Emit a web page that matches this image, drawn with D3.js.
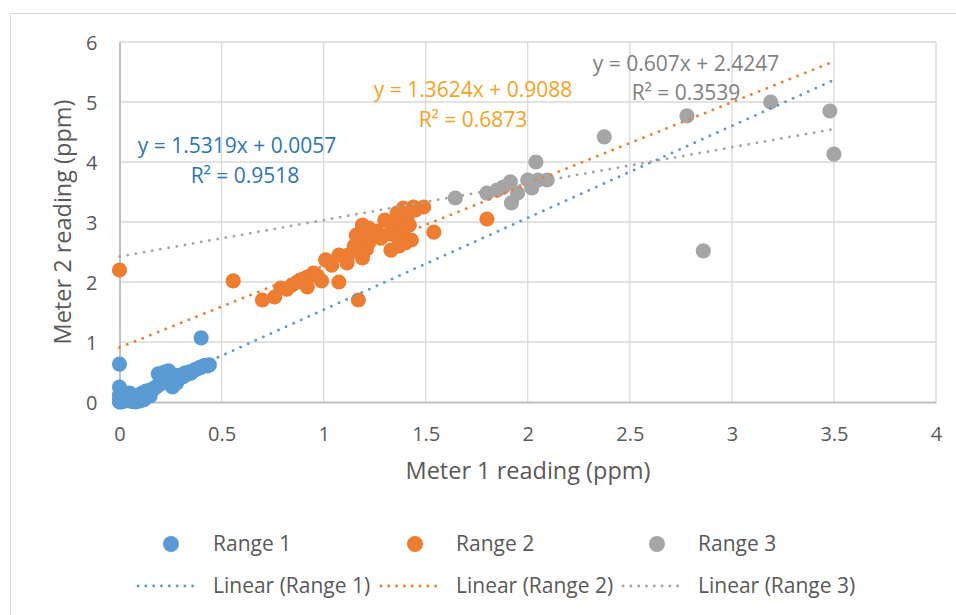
<!DOCTYPE html>
<html>
<head>
<meta charset="utf-8">
<script src="https://cdn.jsdelivr.net/npm/d3@7"></script>
<style>
  html, body { margin: 0; padding: 0; background: #fff; }
  svg { display: block; font-family: "Open Sans", Lato, sans-serif; }
</style>
</head>
<body>
<svg id="chart" width="956" height="615"></svg>
<script>
// Meter readings (ppm): [meter 1, meter 2]
const range1 = [
  [0,0],[0,0.02],[0.01,0],[0.02,0.03],[0,0.05],[0.03,0.02],[0.04,0.06],[0.05,0.03],
  [0.06,0.08],[0.07,0.05],[0.08,0.1],[0.09,0.07],[0.1,0.12],[0.1,0.02],[0.11,0.15],
  [0.12,0.1],[0.13,0.18],[0.14,0.16],[0.15,0.2],[0.16,0.19],[0.17,0.23],[0.18,0.25],
  [0.19,0.28],[0.2,0.3],[0.2,0.45],[0.21,0.33],[0.22,0.5],[0.23,0.36],[0.24,0.4],
  [0.24,0.52],[0.25,0.42],[0.26,0.25],[0.26,0.38],[0.27,0.45],[0.28,0.4],[0.29,0.43],
  [0.3,0.45],[0.31,0.42],[0.32,0.48],[0.33,0.46],[0.34,0.5],[0.35,0.48],[0.36,0.52],
  [0.37,0.54],[0.38,0.55],[0.39,0.57],[0.4,0.58],[0.41,0.6],[0.42,0.61],[0.43,0.6],
  [0.44,0.62],[0.4,1.07],[0,0.63],[0,0.25],[0,0.12],[0.01,0.08],[0.05,0.15],[0.08,0],
  [0.1,0.05],[0.15,0.1],[0.06,0.01],[0.12,0.04],[0.19,0.47],[0.21,0.4],[0.28,0.32]
];
const range2 = [
  [0,2.2],[0.557,2.02],[0.7,1.7],[0.76,1.75],[0.79,1.9],[0.845,1.95],[0.885,2.03],
  [0.92,2.08],[0.92,1.92],[0.95,2.15],[0.99,2.02],[1.01,2.37],[1.075,2.0],[1.075,2.45],
  [1.115,2.32],[1.17,1.7],[1.16,2.78],[1.19,2.95],[1.19,2.4],[1.18,2.58],[1.22,2.65],
  [1.28,2.73],[1.3,3.03],[1.33,2.53],[1.36,3.15],[1.375,2.87],[1.39,3.23],[1.4,2.65],
  [1.43,2.7],[1.44,3.25],[1.49,3.25],[1.54,2.83],[1.8,3.05],[0.82,1.88],[0.87,2.0],
  [0.9,2.05],[0.97,2.1],[1.04,2.28],[1.12,2.45],[1.15,2.6],[1.17,2.7],[1.2,2.82],
  [1.21,2.55],[1.24,2.75],[1.26,2.85],[1.32,2.8],[1.34,2.95],[1.36,2.75],[1.38,3.05],
  [1.41,3.1],[1.42,2.95],[1.45,3.2],[1.37,2.6],[1.39,2.85],[1.18,2.5],[1.22,2.9]
];
const range3 = [
  [1.645,3.4],[1.8,3.48],[1.85,3.53],[1.88,3.58],[1.915,3.67],[1.92,3.32],[1.95,3.48],
  [2.0,3.7],[2.02,3.57],[2.04,4.0],[2.05,3.7],[2.095,3.7],[2.375,4.42],[2.78,4.77],
  [2.86,2.52],[3.19,5.0],[3.48,4.85],[3.5,4.13]
];

// Linear trendlines: [slope, intercept, R²]
const fits = [
  [1.5319, 0.0057, 0.9518],
  [1.3624, 0.9088, 0.6873],
  [0.607, 2.4247, 0.3539]
];
const seriesNames = ["Range 1", "Range 2", "Range 3"];
const xTicks = [0, 0.5, 1, 1.5, 2, 2.5, 3, 3.5, 4];
const yTicks = [0, 1, 2, 3, 4, 5, 6];
const trendXRange = [0, 3.5];

const colors = ["#5B9BD5", "#ED7D31", "#A5A5A5"];
const eqColors = ["#2E75B6", "#F4A21F", "#7F7F7F"];
const textColor = "#595959";

const svg = d3.select("#chart");

// outer chart frame
svg.append("rect")
  .attr("x", 10.5).attr("y", 13.5)
  .attr("width", 960).attr("height", 620)
  .attr("fill", "none").attr("stroke", "#D9D9D9").attr("stroke-width", 1);

const x = d3.scaleLinear().domain([0, 4]).range([119.5, 936]);
const y = d3.scaleLinear().domain([0, 6]).range([402, 42]);

// gridlines
svg.append("g").selectAll("line").data(xTicks.slice(1)).join("line")
  .attr("x1", d => x(d)).attr("x2", d => x(d))
  .attr("y1", y(6)).attr("y2", y(0))
  .attr("stroke", "#D9D9D9").attr("stroke-width", 1.3);
svg.append("g").selectAll("line").data(yTicks.slice(1)).join("line")
  .attr("x1", x(0)).attr("x2", x(4))
  .attr("y1", d => y(d)).attr("y2", d => y(d))
  .attr("stroke", "#D9D9D9").attr("stroke-width", 1.3);

// axes
const xAxis = svg.append("g").attr("transform", `translate(0,${y(0)})`)
  .call(d3.axisBottom(x).tickValues(xTicks).tickSize(0).tickPadding(39).tickFormat(d3.format("")));
const yAxis = svg.append("g").attr("transform", `translate(${x(0)},0)`)
  .call(d3.axisLeft(y).tickValues(yTicks).tickSize(0).tickPadding(22).tickFormat(d3.format("")));
[xAxis, yAxis].forEach(g => {
  g.select(".domain").attr("stroke", "#BFBFBF").attr("stroke-width", 2);
  g.selectAll("text").attr("fill", textColor).attr("font-size", 20)
    .attr("font-family", "'Open Sans', sans-serif");
});
xAxis.selectAll("text").attr("dy", "0");
yAxis.selectAll("text").attr("dy", "0.36em");

// axis titles
svg.append("text").attr("x", 528).attr("y", 479).attr("text-anchor", "middle")
  .attr("fill", textColor).attr("font-size", 23.5).text("Meter 1 reading (ppm)");
svg.append("text").attr("transform", "translate(71,222) rotate(-90)")
  .attr("text-anchor", "middle").attr("fill", textColor).attr("font-size", 23.5)
  .text("Meter 2 reading (ppm)");

// trendlines
const line = d3.line().x(d => x(d[0])).y(d => y(d[1]));
const dotted = sel => sel.attr("fill", "none").attr("stroke-width", 2.8)
  .attr("stroke-linecap", "round").attr("stroke-dasharray", "0.1 8.2");

// scatter points
[range1, range2, range3].forEach((data, i) => {
  svg.append("g").selectAll("circle").data(data).join("circle")
    .attr("cx", d => x(d[0])).attr("cy", d => y(d[1])).attr("r", 7.6)
    .attr("fill", colors[i]);
});

fits.forEach((f, i) => {
  const pts = trendXRange.map(v => [v, f[0] * v + f[1]]);
  svg.append("path").datum(pts).attr("d", line).attr("stroke", colors[i]).call(dotted);
});

// trendline equations
const eqPos = [[237, 153, 245, 183], [473, 97, 473, 127], [686, 71, 686, 100]];
const fmtEq = f => `y = ${f[0]}x + ${f[1]}`;
fits.forEach((f, i) => {
  const p = eqPos[i];
  svg.append("text").attr("x", p[0]).attr("y", p[1]).attr("text-anchor", "middle")
    .attr("fill", eqColors[i]).attr("font-size", 21).text(fmtEq(f));
  svg.append("text").attr("x", p[2]).attr("y", p[3]).attr("text-anchor", "middle")
    .attr("fill", eqColors[i]).attr("font-size", 21).text(`R² = ${f[2]}`);
});

// legend
const legX = [171, 415, 657];
const legTextX = [213, 456, 698];
seriesNames.forEach((name, i) => {
  svg.append("circle").attr("cx", legX[i]).attr("cy", 544).attr("r", 8).attr("fill", colors[i]);
  svg.append("text").attr("x", legTextX[i]).attr("y", 551).attr("fill", textColor)
    .attr("font-size", 21).text(name);
  svg.append("line").attr("x1", legTextX[i] - 75).attr("x2", legTextX[i] - 14)
    .attr("y1", 586).attr("y2", 586).attr("stroke", colors[i])
    .attr("stroke-width", 2.8).attr("stroke-linecap", "round").attr("stroke-dasharray", "0.1 7.7");
  svg.append("text").attr("x", legTextX[i]).attr("y", 593).attr("fill", textColor)
    .attr("font-size", 21).text(`Linear (${name})`);
});
</script>
</body>
</html>
